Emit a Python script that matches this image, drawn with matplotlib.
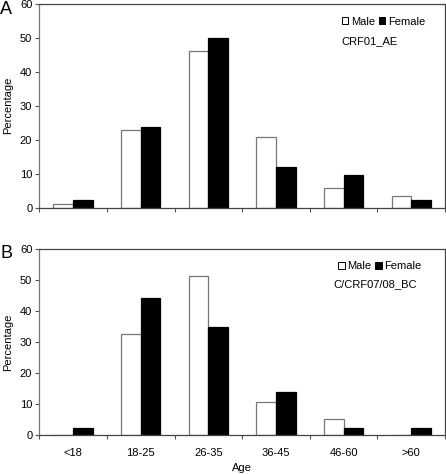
import matplotlib
matplotlib.use("Agg")
import matplotlib.pyplot as plt
from matplotlib.patches import Patch
import numpy as np

plt.rcParams['font.family'] = ['Liberation Sans', 'DejaVu Sans']

categories = ['<18', '18-25', '26-35', '36-45', '46-60', '>60']
a_male = [1.2, 23.0, 46.0, 20.7, 5.8, 3.5]
a_female = [2.3, 23.7, 50.0, 11.9, 9.5, 2.3]
b_male = [0.0, 32.8, 51.3, 10.7, 5.4, 0.0]
b_female = [2.3, 44.2, 34.9, 14.0, 2.3, 2.3]
panels = [('A', 'CRF01_AE', a_male, a_female), ('B', 'C/CRF07/08_BC', b_male, b_female)]

fig = plt.figure(figsize=(4.46, 4.74), dpi=100)
rects = [[0.088, 0.5618, 0.91, 0.430], [0.088, 0.0816, 0.91, 0.3924]]
leg_pos = [(0.745, 0.912, 0.745, 0.818), (0.736, 0.910, 0.725, 0.813)]
letter_y = [1 - 10 / 474, 1 - 253 / 474]

x = np.arange(len(categories))
w = 0.29
for (letter, subtype, male, female), r, lp, ly in zip(panels, rects, leg_pos, letter_y):
    ax = fig.add_axes(r)
    ax.bar(x + 0.5 - w / 2, male, width=w, color='white', edgecolor='#777777', linewidth=0.9)
    ax.bar(x + 0.5 + w / 2, female, width=w, color='black', edgecolor='black', linewidth=0.9)
    ax.set_xlim(0, len(categories))
    ax.set_ylim(0, 60)
    ax.set_yticks(range(0, 61, 10))
    ax.set_xticks(range(len(categories) + 1))
    ax.set_xticks(x + 0.5, minor=True)
    ax.tick_params(axis='x', which='major', direction='out', length=3, width=0.8, color='#555555', labelbottom=False)
    ax.tick_params(axis='x', which='minor', length=0, labelsize=8, pad=9)
    ax.tick_params(axis='y', direction='out', length=3, width=0.8, color='#555555', labelsize=8, pad=2)
    if letter == 'B':
        ax.set_xticklabels(categories, minor=True)
        ax.set_xlabel('Age', fontsize=8, labelpad=4)
    for s in ax.spines.values():
        s.set_linewidth(0.9)
        s.set_color('#444444')
    ax.spines['left'].set_color('#777777')
    ax.set_ylabel('Percentage', fontsize=8, labelpad=5)
    handles = [Patch(facecolor='white', edgecolor='black', linewidth=0.7, label='Male'),
               Patch(facecolor='black', edgecolor='black', linewidth=0.7, label='Female')]
    ax.legend(handles=handles, ncol=2, frameon=False, fontsize=8,
              handlelength=0.6, handleheight=0.6, handletextpad=0.25, columnspacing=0.3,
              loc='center left', bbox_to_anchor=(lp[0], lp[1]), borderaxespad=0, borderpad=0)
    ax.text(lp[2], lp[3], subtype, transform=ax.transAxes, fontsize=8, va='center', ha='left')
    fig.text(0.0, ly, letter, fontsize=13, va='center', ha='left')

fig.savefig('out.png', dpi=100)
